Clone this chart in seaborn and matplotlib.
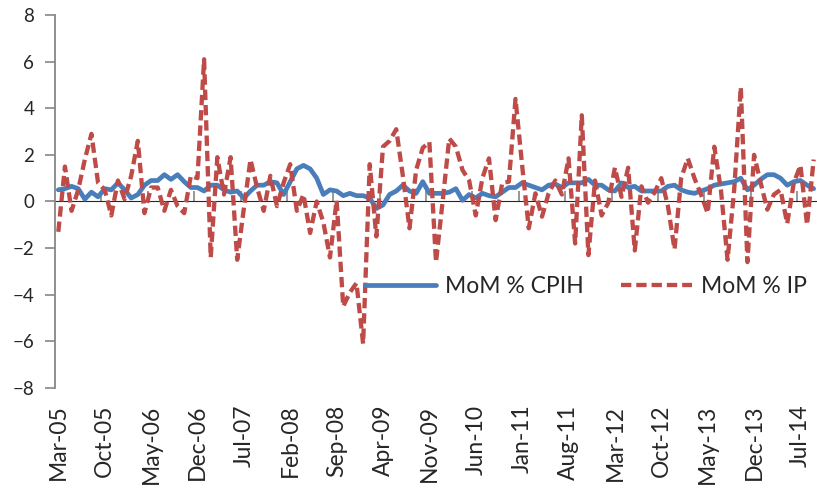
import numpy as np
import pandas as pd
import seaborn as sns
import matplotlib.pyplot as plt

# --- data (monthly, Mar-05 .. Sep-14) ---
months = pd.date_range('2005-03-01', periods=115, freq='MS').strftime('%b-%y')

cpih = [0.5, 0.55, 0.65, 0.55, 0.1, 0.4, 0.2, 0.55, 0.5, 0.8,
        0.5, 0.15, 0.3, 0.7, 0.9, 0.9, 1.15, 0.95, 1.15, 0.85,
        0.6, 0.6, 0.45, 0.7, 0.7, 0.5, 0.4, 0.45, 0.15, 0.45,
        0.7, 0.7, 0.85, 0.8, 0.3, 0.85, 1.4, 1.55, 1.4, 1.0,
        0.3, 0.5, 0.45, 0.25, 0.35, 0.25, 0.25, 0.15, -0.3, -0.15,
        0.3, 0.45, 0.7, 0.45, 0.35, 0.85, 0.35, 0.35, 0.35, 0.4,
        0.55, 0.05, 0.3, 0.15, 0.35, 0.25, 0.2, 0.4, 0.6, 0.6,
        0.8, 0.7, 0.6, 0.5, 0.7, 0.75, 0.6, 0.8, 0.8, 0.8,
        0.95, 0.7, 0.7, 0.5, 0.45, 0.8, 0.6, 0.65, 0.45, 0.45,
        0.45, 0.45, 0.65, 0.7, 0.5, 0.4, 0.35, 0.45, 0.55, 0.7,
        0.75, 0.8, 0.85, 1.0, 0.5, 0.7, 0.95, 1.15, 1.15, 1.0,
        0.7, 0.85, 0.9, 0.7, 0.55]

ip = [-1.3, 1.5, -0.4, 0.5, 1.8, 2.9, 0.8, 0.5, -0.6, 0.9,
      0.1, 1.1, 2.6, -0.5, 0.6, 0.6, -0.4, 0.5, -0.2, -0.5,
      1.1, 1.0, 6.1, -2.4, 1.9, 0.3, 1.9, -2.5, -0.3, 1.8,
      0.6, -0.4, 1.1, -0.2, 0.8, 1.6, -0.4, 0.3, -1.35, 0.0,
      -0.9, -2.4, 0.05, -4.5, -3.9, -3.5, -6.1, 1.6, -1.5, 2.35,
      2.6, 3.1, 1.1, -1.15, 1.35, 2.3, 2.55, -2.6, 0.0, 2.7,
      2.35, 1.35, 0.9, -0.6, 1.0, 1.85, -0.8, 0.8, 0.85, 4.4,
      1.55, -1.15, 0.35, -0.65, 0.35, 0.9, 0.3, 1.85, -1.8, 3.7,
      -2.3, 0.9, -0.6, -0.05, 1.45, 0.2, 1.45, -2.1, 0.65, -0.05,
      0.4, 1.0, -0.2, -2.05, 1.0, 1.85, 1.0, 0.3, -0.5, 2.35,
      0.5, -2.5, 0.5, 4.9, -2.6, 2.0, 0.8, -0.35, 0.3, 0.5,
      -0.95, 0.8, 1.55, -1.0, 1.8]

label_every = 7

df = pd.DataFrame({'pos': np.arange(len(months)), 'month': months,
                   'cpih': cpih, 'ip': ip})

sns.set_style('white')
plt.rcParams['font.family'] = ['Lato', 'DejaVu Sans']

fig = plt.figure(figsize=(8.17, 4.9), dpi=100)
ax = fig.add_axes([55/817, 1 - 388/490, 762/817, 373/490])

sns.lineplot(data=df, x='pos', y='cpih', ax=ax, color='#4A7EBB', lw=3.4,
             label='MoM % CPIH')
sns.lineplot(data=df, x='pos', y='ip', ax=ax, color='#BE4B48', lw=3.1,
             label='MoM % IP', dashes=False)
ax.lines[-1].set_dashes((2.4, 1.15))

ax.set_xlim(-0.5, len(months) - 0.5)
ax.set_ylim(-8, 8)
ax.set_yticks(range(-8, 9, 2))
ax.set_xlabel('')
ax.set_ylabel('')

# category labels at the bottom, every 7th month
lab_pos = df['pos'][::label_every]
ax.set_xticks(lab_pos)
ax.set_xticklabels(df['month'][::label_every], rotation=90, fontsize=16.5)
ax.tick_params(axis='x', length=0, pad=12)
ax.tick_params(axis='y', length=7, width=1.2, color='#868686', labelsize=13.5,
               pad=8, left=True)

for s in ['top', 'right', 'bottom']:
    ax.spines[s].set_visible(False)
ax.spines['left'].set_color('#868686')
ax.spines['left'].set_linewidth(1.3)

# horizontal category axis crossing at zero, ticks between categories
zero_ax = ax.secondary_xaxis(0.5)
zero_ax.set_xticks(lab_pos[1:] - 0.5)
zero_ax.set_xticklabels([])
zero_ax.tick_params(length=7, width=1.2, color='#868686', direction='out')
zero_ax.spines['bottom'].set_color('#868686')
zero_ax.spines['bottom'].set_linewidth(1.3)

ax.legend(loc='center left', bbox_to_anchor=(0.407, 0.273), ncol=2,
          frameon=False, fontsize=16.5, handlelength=3.1, handletextpad=0.4,
          columnspacing=1.6, borderaxespad=0, borderpad=0)

fig.savefig('out.png', dpi=100)
